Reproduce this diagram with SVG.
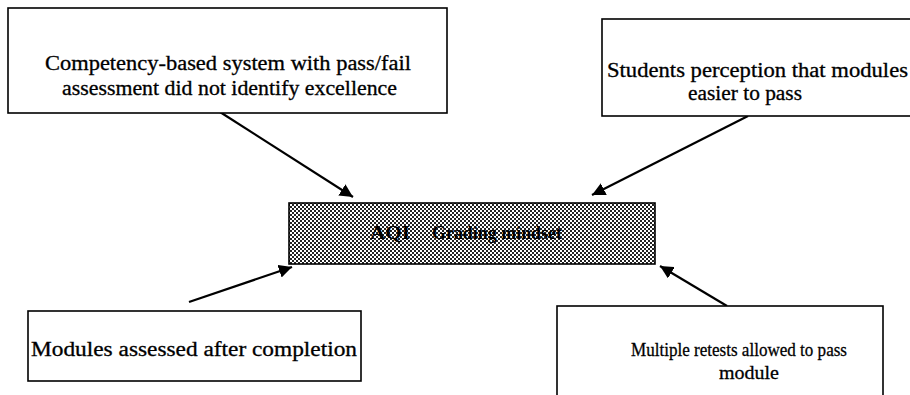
<svg xmlns="http://www.w3.org/2000/svg" width="910" height="395" viewBox="0 0 910 395">
<style>
.box{fill:#fff;stroke:#000;stroke-width:1.6}
.t{font-family:"Liberation Serif","DejaVu Serif",serif;font-size:20px;fill:#000;stroke:#000;stroke-width:0.3}
.t.s{font-size:19.5px}
.m{font-family:"Liberation Serif","DejaVu Serif",serif;font-size:19px;font-weight:bold;fill:#000}
.c{stroke:#000;stroke-width:2.2;fill:none}
</style>
<defs>
<pattern id="hatch" width="4" height="4" patternUnits="userSpaceOnUse">
<rect width="4" height="4" fill="#fff"/>
<rect x="0" y="0" width="2" height="2" fill="#222"/>
<rect x="2" y="2" width="2" height="2" fill="#222"/>
</pattern>
<marker id="ah" viewBox="0 0 10 10" refX="10" refY="5" markerWidth="6" markerHeight="6" markerUnits="strokeWidth" orient="auto">
<path d="M0,0 L10,5 L0,10 z" fill="#000"/>
</marker>
</defs>
<rect width="910" height="395" fill="#fff"/>
<g id="connectors">
<line class="c" x1="220" y1="112" x2="353" y2="197" marker-end="url(#ah)"/>
<line class="c" x1="748" y1="116" x2="592" y2="195" marker-end="url(#ah)"/>
<line class="c" x1="189" y1="302" x2="292" y2="267" marker-end="url(#ah)"/>
<line class="c" x1="727" y1="306" x2="660" y2="266" marker-end="url(#ah)"/>
</g>
<g id="n1">
<rect class="box" x="8" y="8" width="439" height="105"/>
<text class="t" x="45" y="70" textLength="366" lengthAdjust="spacingAndGlyphs">Competency-based system with pass/fail</text>
<text class="t" x="62" y="95" textLength="335" lengthAdjust="spacingAndGlyphs">assessment did not identify excellence</text>
</g>
<g id="n2">
<rect class="box" x="602" y="19" width="312" height="97"/>
<text class="t" x="607" y="77" textLength="301" lengthAdjust="spacingAndGlyphs">Students perception that modules</text>
<text class="t" x="688" y="100" textLength="114" lengthAdjust="spacingAndGlyphs">easier to pass</text>
</g>
<g id="n3">
<rect x="289" y="203" width="366" height="61" fill="url(#hatch)" stroke="#000" stroke-width="1.6"/>
<text class="m" x="370" y="239" textLength="40" lengthAdjust="spacingAndGlyphs">AQI</text>
<text class="m" x="432" y="239" textLength="130" lengthAdjust="spacingAndGlyphs">Grading mindset</text>
</g>
<g id="n4">
<rect class="box" x="28" y="311" width="333" height="70"/>
<text class="t" x="31" y="356" textLength="326" lengthAdjust="spacingAndGlyphs">Modules assessed after completion</text>
</g>
<g id="n5">
<rect class="box" x="557" y="306" width="326" height="95"/>
<text class="t s" x="631" y="356" textLength="216" lengthAdjust="spacingAndGlyphs">Multiple retests allowed to pass</text>
<text class="t s" x="719" y="379" textLength="60" lengthAdjust="spacingAndGlyphs">module</text>
</g>
</svg>
